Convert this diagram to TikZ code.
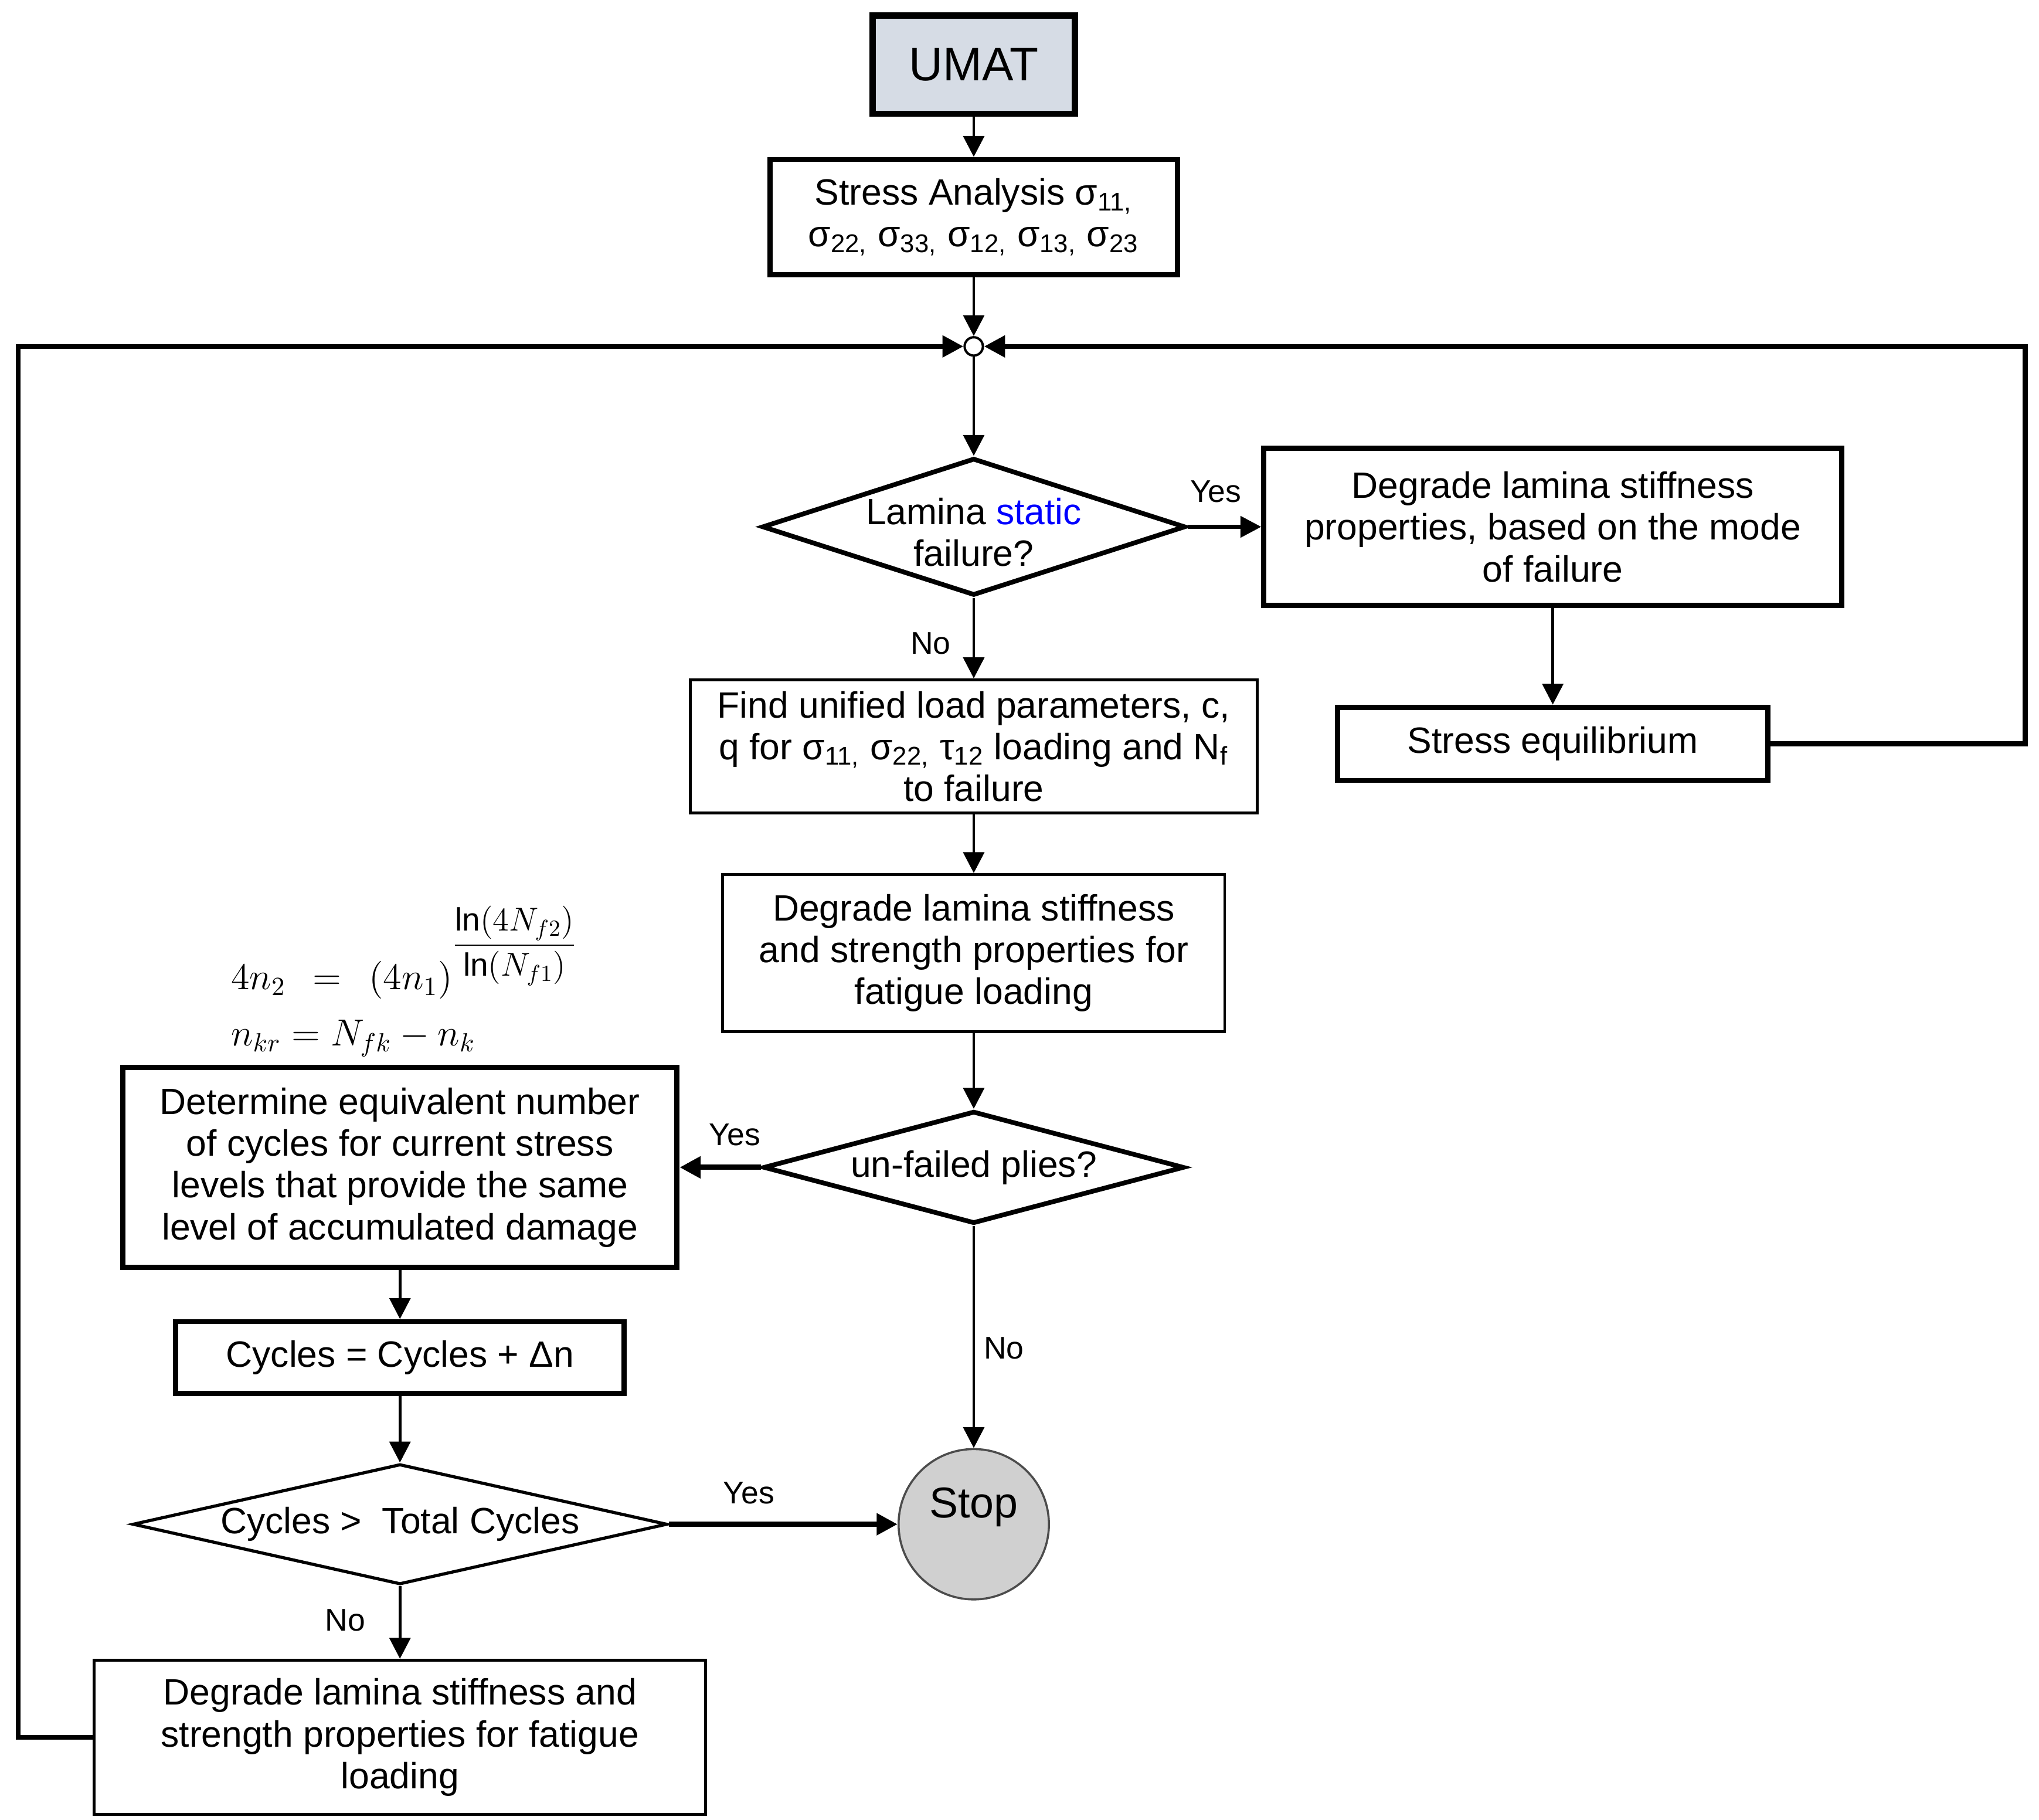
\documentclass[tikz,border=0pt]{standalone}
\usepackage{amsmath}
\usepackage{fontspec}
\setmainfont{Liberation Sans}
\usepackage{tikz}
\usetikzlibrary{arrows.meta,shapes.geometric}

\definecolor{umatfill}{HTML}{D6DCE5}
\definecolor{stopfill}{HTML}{D0D0D0}

\tikzset{
  block/.style={draw, rectangle, line width=1.1pt, inner sep=0pt, align=center},
  heavyblock/.style={block, line width=2pt},
  decision/.style={draw, diamond, inner sep=0pt, line width=1.8pt},
  answer/.style={font=\fontsize{12}{14}\selectfont, inner sep=0pt},
}

\begin{document}
\begin{tikzpicture}[->,>={Triangle[length=8pt,width=8pt]},x=0.5pt,y=-0.5pt,
                line width=1.1pt,font=\fontsize{14}{16}\selectfont]
            \useasboundingbox (0,0) rectangle (1560,1392);

            \node [heavyblock,line width=2.4pt,fill=umatfill,minimum width=77.5pt,minimum height=37.5pt,
                   font=\fontsize{18}{20}\selectfont] (umat) at (745,49.5) {UMAT};
            \node [heavyblock,minimum width=156pt,minimum height=44pt] (stress) at (745,166)
                  {Stress Analysis σ\textsubscript{11,}\\σ\textsubscript{22,} σ\textsubscript{33,} σ\textsubscript{12,} σ\textsubscript{13,} σ\textsubscript{23}};
            \node [circle,draw,minimum size=7pt,inner sep=0pt,line width=0.9pt] (junc) at (745,265) {};
            \node [decision,minimum width=162pt,minimum height=52.5pt,
                   label={[align=center,yshift=-2pt]center:{Lamina \textcolor{blue}{static}\\failure?}}] (static) at (745,403) {};
            \node [heavyblock,minimum width=221pt,minimum height=60pt] (modedeg) at (1188,403)
                  {Degrade lamina stiffness\\properties, based on the mode\\of failure};
            \node [heavyblock,minimum width=164.5pt,minimum height=28pt] (equil) at (1188,569) {Stress equilibrium};
            \node [block,minimum width=217pt,minimum height=51pt] (unified) at (745,571)
                  {Find unified load parameters, c,\\q for σ\textsubscript{11,} σ\textsubscript{22,} τ\textsubscript{12} loading and N\textsubscript{f}\\to failure};
            \node [block,minimum width=192pt,minimum height=60pt] (fatdeg) at (745,729)
                  {Degrade lamina stiffness\\and strength properties for\\fatigue loading};
            \node [decision,minimum width=161pt,minimum height=43pt,
                   label={center:un-failed plies?}] (plies) at (745,893) {};
            \node [anchor=base west] (eqone) at (169,757)
                  {$4n_2 \;\,=\;\, (4n_1)^{\scalebox{0.88}{$\displaystyle\frac{\ln(4N_{f2})}{\ln(N_{f1})}$}}$};
            \node [anchor=base west] (eqtwo) at (169,800) {$n_{kr} = N_{fk} - n_k$};
            \node [heavyblock,minimum width=212pt,minimum height=76.5pt] (equiv) at (306,893)
                  {Determine equivalent number\\of cycles for current stress\\levels that provide the same\\level of accumulated damage};
            \node [heavyblock,minimum width=171.5pt,minimum height=27.5pt] (cycles) at (306,1038.5)
                  {Cycles = Cycles + Δn};
            \node [decision,line width=1.2pt,minimum width=204.5pt,minimum height=46pt,
                   label={center:Cycles >\ \ Total Cycles}] (total) at (306,1166) {};
            \node [circle,draw=black!70,line width=0.8pt,fill=stopfill,minimum size=57.5pt,inner sep=0pt,
                   label={[font=\fontsize{16.5}{18}\selectfont,yshift=6.5pt]center:Stop}] (stop) at (745,1166) {};
            \node [block,minimum width=234pt,minimum height=59pt] (plydeg) at (306,1329)
                  {Degrade lamina stiffness and\\strength properties for fatigue\\loading};

            \path
            (umat)    edge                                                   (stress)
            (stress)  edge                                                   (junc)
            (junc)    edge                                                   (static)
            (static)  edge [line width=1.5pt] node [answer,pos=0.38,yshift=13.5pt] {Yes} (modedeg)
                      edge                    node [answer,pos=0.57,xshift=-16.5pt] {No} (unified)
            (modedeg) edge                                                   (equil)
            (unified) edge                                                   (fatdeg)
            (fatdeg)  edge                                                   (plies)
            (plies)   edge [line width=2pt]   node [answer,pos=0.32,yshift=12.5pt] {Yes} (equiv)
                      edge                    node [answer,pos=0.55,xshift=11.5pt] {No}  (stop)
            (equiv)   edge                                                   (cycles)
            (cycles)  edge                                                   (total)
            (total)   edge [line width=2pt]   node [answer,pos=0.35,yshift=12pt] {Yes}   (stop)
                      edge                    node [answer,pos=0.47,xshift=-21pt] {No}   (plydeg);

            % loops back to the junction
            \draw [line width=1.9pt] (plydeg.west) -- ++(-57,0) |- (junc.west);
            \draw [line width=1.9pt] (equil.east) -- ++(195,0) |- (junc.east);
        \end{tikzpicture}
\end{document}
